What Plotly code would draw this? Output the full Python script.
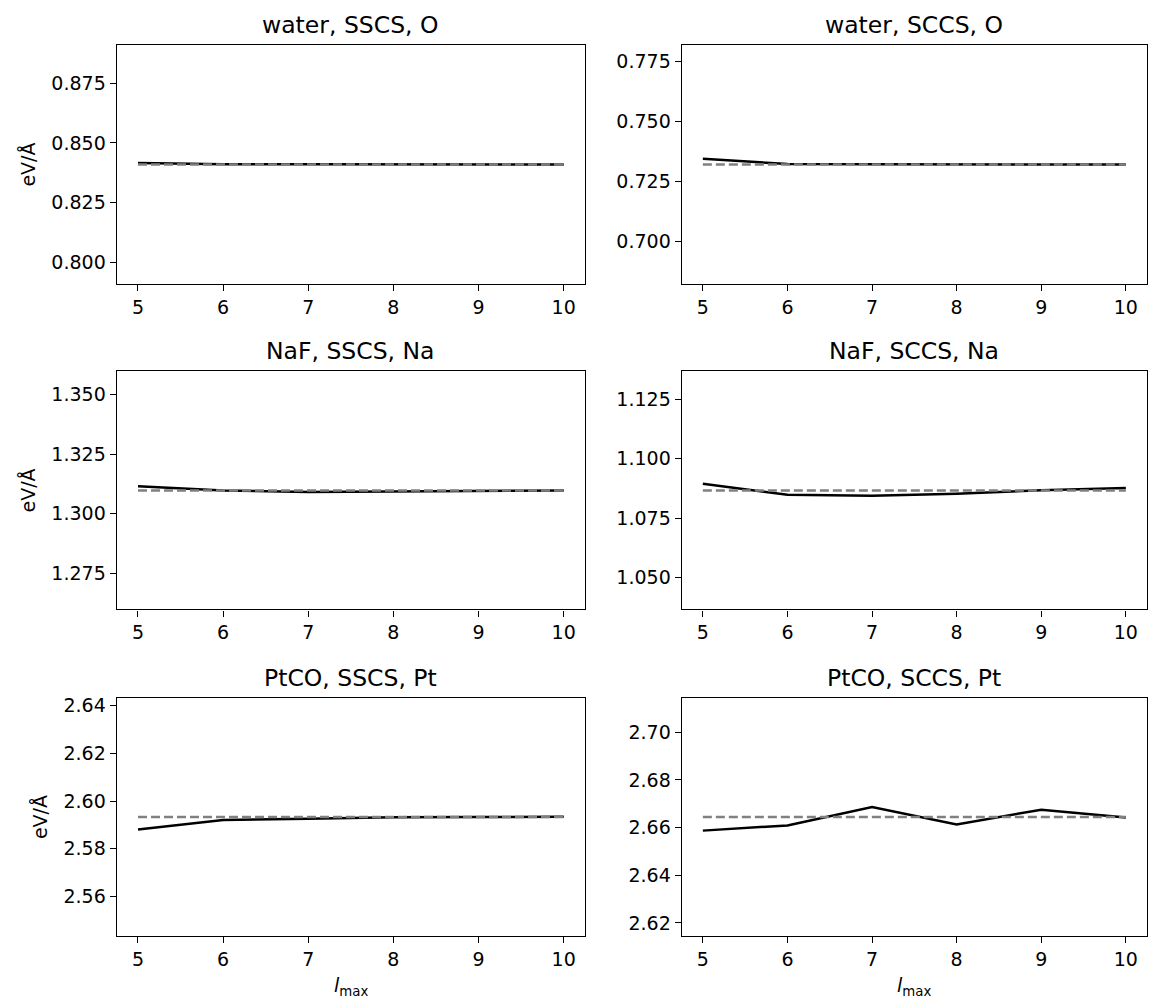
import plotly.graph_objects as go

W, H = 1149, 999

lmax = [5, 6, 7, 8, 9, 10]

titles = ["water, SSCS, O", "water, SCCS, O",
          "NaF, SSCS, Na", "NaF, SCCS, Na",
          "PtCO, SSCS, Pt", "PtCO, SCCS, Pt"]

ref_values = [0.8410, 0.7320, 1.3097, 1.0867, 2.5933, 2.6644]

water_sscs = [0.8416, 0.8411, 0.8411, 0.8411, 0.8410, 0.8410]
water_sccs = [0.7344, 0.7322, 0.7321, 0.7321, 0.7320, 0.7320]
naf_sscs = [1.3115, 1.3097, 1.3090, 1.3092, 1.3095, 1.3097]
naf_sccs = [1.0895, 1.0849, 1.0845, 1.0853, 1.0868, 1.0877]
ptco_sscs = [2.5881, 2.5921, 2.5926, 2.5932, 2.5933, 2.5934]
ptco_sccs = [2.6587, 2.6609, 2.6686, 2.6613, 2.6675, 2.6642]

series = [water_sscs, water_sccs, naf_sscs, naf_sccs, ptco_sscs, ptco_sccs]
half_span = 0.05
ytick_step = [0.025, 0.025, 0.025, 0.025, 0.02, 0.02]
ytick_fmt = [".3f", ".3f", ".3f", ".3f", ".2f", ".2f"]

# panel frames in pixels (left, right, top, bottom)
xcols = [(116.7, 585.0), (681.7, 1147.0)]
yrows = [(42.0, 282.0), (369.5, 608.3), (697.0, 936.0)]

FONT = "DejaVu Sans"
TICK_SIZE = 19
TITLE_SIZE = 23.5
fig = go.Figure()
annotations = []

for i in range(6):
    r, c = divmod(i, 2)
    ax = "" if i == 0 else str(i + 1)
    xl, xr = xcols[c]
    yt, yb = yrows[r]
    xdom = [xl / W, xr / W]
    ydom = [1 - yb / H, 1 - yt / H]
    ref = ref_values[i]

    fig.add_trace(go.Scatter(x=lmax, y=series[i], mode="lines",
                             line=dict(color="black", width=2.5),
                             xaxis="x" + ax, yaxis="y" + ax, showlegend=False))
    fig.add_trace(go.Scatter(x=[lmax[0], lmax[-1]], y=[ref, ref], mode="lines",
                             line=dict(color="#808080", width=2.5, dash="9px,4px"),
                             xaxis="x" + ax, yaxis="y" + ax, showlegend=False))

    common = dict(showline=True, linecolor="black", linewidth=1.3, mirror=True,
                  ticks="outside", ticklen=6, tickwidth=1.3, tickcolor="black",
                  showgrid=False, zeroline=False,
                  tickfont=dict(family=FONT, size=TICK_SIZE, color="black"))
    fig.layout["xaxis" + ax] = dict(domain=xdom, range=[4.75, 10.25], dtick=1,
                                    tick0=5, anchor="y" + ax, **common)
    yax = dict(domain=ydom, range=[ref - half_span, ref + half_span],
               dtick=ytick_step[i], tick0=0, tickformat=ytick_fmt[i],
               anchor="x" + ax, **common)
    if c == 0:
        yax["title"] = dict(text="eV/Å",
                            font=dict(family=FONT, size=TICK_SIZE, color="black"),
                            standoff=10)
    fig.layout["yaxis" + ax] = yax

    annotations.append(dict(text=titles[i], x=(xdom[0] + xdom[1]) / 2, y=ydom[1],
                            xref="paper", yref="paper", xanchor="center",
                            yanchor="bottom", yshift=4, showarrow=False,
                            font=dict(family=FONT, size=TITLE_SIZE, color="black")))
    if r == 2:
        annotations.append(dict(text="<i>l</i><sub>max</sub>",
                                x=(xdom[0] + xdom[1]) / 2, y=ydom[0],
                                xref="paper", yref="paper", xanchor="center",
                                yanchor="top", yshift=-36, showarrow=False,
                                font=dict(family=FONT, size=TICK_SIZE, color="black")))

fig.update_layout(width=W, height=H, margin=dict(l=0, r=0, t=0, b=0),
                  plot_bgcolor="white", paper_bgcolor="white",
                  annotations=annotations,
                  font=dict(family=FONT, size=TICK_SIZE, color="black"))

fig.write_html("out.html")
